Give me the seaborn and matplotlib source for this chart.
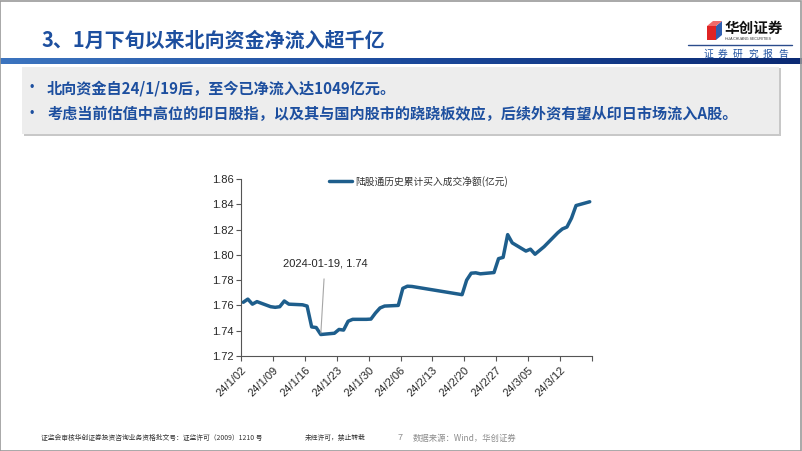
import matplotlib
matplotlib.use('Agg')
import matplotlib.pyplot as plt
from matplotlib.patches import Rectangle, Polygon
from matplotlib.colors import LinearSegmentedColormap
from matplotlib.lines import Line2D
import matplotlib.transforms as mtransforms
import numpy as np
import pandas as pd
import seaborn as sns

# ---------------- data ----------------
dates = [
    "2024-01-02", "2024-01-03", "2024-01-04", "2024-01-05",
    "2024-01-08", "2024-01-09", "2024-01-10", "2024-01-11", "2024-01-12",
    "2024-01-15", "2024-01-16", "2024-01-17", "2024-01-18", "2024-01-19",
    "2024-01-22", "2024-01-23", "2024-01-24", "2024-01-25", "2024-01-26",
    "2024-01-29", "2024-01-30", "2024-01-31", "2024-02-01", "2024-02-02",
    "2024-02-05", "2024-02-06", "2024-02-07", "2024-02-08",
    "2024-02-19", "2024-02-20", "2024-02-21", "2024-02-22", "2024-02-23",
    "2024-02-26", "2024-02-27", "2024-02-28", "2024-02-29", "2024-03-01",
    "2024-03-04", "2024-03-05", "2024-03-06", "2024-03-07", "2024-03-08",
    "2024-03-11", "2024-03-12", "2024-03-13", "2024-03-14", "2024-03-15",
    "2024-03-18",
]
values = [
    1.7625, 1.7650, 1.7610, 1.7630,
    1.7590, 1.7585, 1.7590, 1.7635, 1.7610,
    1.7605, 1.7595, 1.7430, 1.7425, 1.7370,
    1.7380, 1.7410, 1.7405, 1.7475, 1.7490,
    1.7490, 1.7492, 1.7540, 1.7580, 1.7595,
    1.7600, 1.7735, 1.7752, 1.7750,
    1.7685, 1.7800, 1.7855, 1.7858, 1.7850,
    1.7860, 1.7970, 1.7980, 1.8160, 1.8095,
    1.8030, 1.8045, 1.8005, 1.8035, 1.8065,
    1.8175, 1.8205, 1.8220, 1.8290, 1.8390,
    1.8420,
]
tick_dates = ["2024-01-02", "2024-01-09", "2024-01-16", "2024-01-23", "2024-01-30",
              "2024-02-06", "2024-02-13", "2024-02-20", "2024-02-27", "2024-03-05",
              "2024-03-12", "2024-03-19"]
tick_labels = ["24/1/02", "24/1/09", "24/1/16", "24/1/23", "24/1/30", "24/2/06",
               "24/2/13", "24/2/20", "24/2/27", "24/3/05", "24/3/12", ""]
y_ticks = [1.72, 1.74, 1.76, 1.78, 1.80, 1.82, 1.84, 1.86]
series_name = "陆股通历史累计买入成交净额(亿元)"
annot_date = "2024-01-19"
annot_text = "2024-01-19, 1.74"
title = "3、1月下旬以来北向资金净流入超千亿"
bullets = ["北向资金自24/1/19后，至今已净流入达1049亿元。",
           "考虑当前估值中高位的印日股指，以及其与国内股市的跷跷板效应，后续外资有望从印日市场流入A股。"]
logo_name = "华创证券"
logo_sub = "HUA CHUANG SECURITIES"
logo_tag = "证券研究报告"
footer_left = "证监会审核华创证券投资咨询业务资格批文号：证监许可（2009）1210 号"
footer_mid = "未经许可，禁止转载"
page_no = "7"
source = "数据来源：Wind，华创证券"

# ---------------- style ----------------
sns.set_style("ticks")
CJK = ["Noto Sans CJK SC", "DejaVu Sans"]
LAT = ["Liberation Sans", "DejaVu Sans"]
plt.rcParams['font.family'] = LAT + ["Noto Sans CJK SC"]

W, H = 802, 451
fig = plt.figure(figsize=(W / 100, H / 100), dpi=100)
fig.patch.set_facecolor("white")


def fx(px):
    return px / W


def fy(py):
    return 1 - py / H


BLUE = "#1D4F9F"

# slide frame
fig.patches.append(Rectangle((0.0005, 0.001), 0.998, 0.997, transform=fig.transFigure,
                             fill=False, edgecolor="#9A9A9A", lw=1.2))

# title
fig.text(fx(41), fy(40), title, family=CJK, fontsize=14.4, weight="bold",
         color=BLUE, ha="left", va="center")

# gradient bar
bar_ax = fig.add_axes([0, fy(64), 1, 6 / H])
cmap = LinearSegmentedColormap.from_list("g", ["#3C74BF", "#1C4A9C", "#0B2A74"])
bar_ax.imshow(np.linspace(0, 1, 256).reshape(1, -1), aspect="auto", cmap=cmap)
bar_ax.set_axis_off()

# logo
fig.patches.append(Polygon([(fx(707), fy(26)), (fx(716), fy(26)), (fx(716), fy(40)), (fx(707), fy(40))],
                           closed=True, transform=fig.transFigure, facecolor="#E02424", edgecolor="none"))
fig.patches.append(Polygon([(fx(716), fy(26)), (fx(722), fy(21)), (fx(722), fy(35)), (fx(716), fy(40))],
                           closed=True, transform=fig.transFigure, facecolor="#2F5FB0", edgecolor="none"))
fig.patches.append(Polygon([(fx(707), fy(26)), (fx(713), fy(21)), (fx(722), fy(21)), (fx(716), fy(26))],
                           closed=True, transform=fig.transFigure, facecolor="#F06A6A", edgecolor="none"))
fig.text(fx(725), fy(28), logo_name, family=CJK, fontsize=10.5, weight="bold",
         color="#111111", ha="left", va="center")
fig.text(fx(725), fy(38.5), logo_sub, family=LAT, fontsize=2.6,
         color="#333333", ha="left", va="center")
fig.add_artist(Line2D([fx(688), fx(792)], [fy(45), fy(45)], transform=fig.transFigure,
                      color="#2B4C8C", lw=1.0))
for i, ch in enumerate(logo_tag):
    fig.text(fx(708 + 15 * i), fy(54), ch, family=CJK, fontsize=7,
             color=BLUE, ha="center", va="center")

# bullet box
fig.patches.append(Rectangle((fx(24), fy(136)), fx(781) - fx(24), (136 - 68) / H,
                             transform=fig.transFigure, facecolor="#C8C8C8", edgecolor="none"))
fig.patches.append(Rectangle((fx(22), fy(134)), fx(779) - fx(22), (134 - 67) / H,
                             transform=fig.transFigure, facecolor="#EDEDED", edgecolor="none"))
for i, b in enumerate(bullets):
    yy = 88 + i * 26
    fig.text(fx(32), fy(yy), "•", family=LAT, fontsize=9, color=BLUE, ha="center", va="center")
    fig.text(fx(47), fy(yy), b, family=CJK, fontsize=10.9, weight="bold", color=BLUE,
             ha="left", va="center")

# ---------------- chart ----------------
df = pd.DataFrame({"date": pd.to_datetime(dates), "value": values})
ax = fig.add_axes([fx(241), fy(356), fx(592) - fx(241), (356 - 179) / H])
sns.lineplot(data=df, x="date", y="value", ax=ax, color="#1E5E8C", linewidth=2.5,
             label=series_name)
for ln in ax.lines:
    ln.set_solid_joinstyle("round")
    ln.set_solid_capstyle("round")

half = pd.Timedelta(hours=12)
tpos = pd.to_datetime(tick_dates) - half
ax.set_xlim(tpos[0], tpos[-1])
ax.set_xticks(tpos)
ax.set_xticklabels(tick_labels, rotation=45, ha="right", rotation_mode="anchor",
                   fontsize=8, family=LAT, color="#262626")
shift = mtransforms.ScaledTranslation(4 / 100, 0, fig.dpi_scale_trans)
for lab in ax.get_xticklabels():
    lab.set_transform(lab.get_transform() + shift)
ax.set_ylim(y_ticks[0], y_ticks[-1])
ax.set_yticks(y_ticks)
ax.set_yticklabels([f"{v:.2f}" for v in y_ticks], fontsize=8, family=LAT, color="#262626")
ax.set_xlabel("")
ax.set_ylabel("")
sns.despine(ax=ax)
for s in ["left", "bottom"]:
    ax.spines[s].set_color("#555555")
    ax.spines[s].set_linewidth(0.8)
ax.tick_params(axis="both", direction="out", length=3.5, width=0.8, color="#555555", pad=2)
ax.tick_params(axis="x", pad=3)
ax.set_facecolor("none")

leg = ax.legend(loc="upper left", bbox_to_anchor=(fx(329), fy(176)), bbox_transform=fig.transFigure,
                frameon=False, prop={"family": CJK, "size": 7}, handlelength=2.4,
                handletextpad=0.3, borderaxespad=0, borderpad=0)
for t in leg.get_texts():
    t.set_color("#333333")

a_val = values[dates.index(annot_date)]
ax.annotate(annot_text, xy=(pd.Timestamp(annot_date), a_val), xytext=(3, 51),
            textcoords="offset points", ha="center", va="center", fontsize=8, family=LAT,
            color="#262626",
            arrowprops=dict(arrowstyle="-", color="#A6A6A6", lw=0.8, shrinkA=5, shrinkB=1))

# ---------------- footer ----------------
fig.text(fx(41), fy(438), footer_left, family=CJK, fontsize=4.9, color="#333333", ha="left", va="center")
fig.text(fx(305), fy(438), footer_mid, family=CJK, fontsize=4.9, color="#333333", ha="left", va="center")
fig.text(fx(398), fy(438), page_no, family=LAT, fontsize=6.5, color="#8C8C8C", ha="left", va="center")
fig.text(fx(413), fy(438), source, family=CJK, fontsize=6, color="#8C8C8C", ha="left", va="center")

fig.savefig("out.png", dpi=100, facecolor="white")
